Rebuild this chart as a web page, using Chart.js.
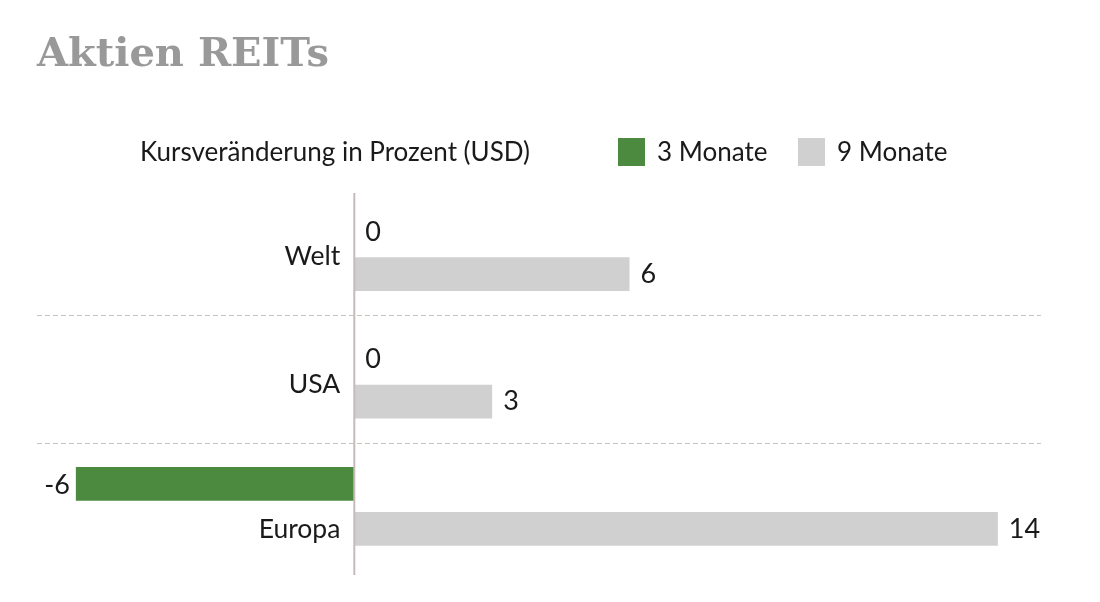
<!DOCTYPE html>
<html><head><meta charset="utf-8">
<script src="https://cdn.jsdelivr.net/npm/chart.js@4/dist/chart.umd.min.js"></script>
<style>body{margin:0;background:#fff}canvas{display:block}</style>
</head><body>
<canvas id="c" width="1100" height="602"></canvas>
<script>
const titleText = 'Aktien REITs';
const axisCaption = 'Kursveränderung in Prozent (USD)';
const categories = ['Welt', 'USA', 'Europa'];
const seriesNames = ['3 Monate', '9 Monate'];
const values3M = [0, 0, -6.04];
const values9M = [5.97, 2.99, 13.96];
const colors = ['#4c8a3f', '#d0d0d0'];

const FONT = 'Lato, "DejaVu Sans Condensed", sans-serif';
const TEXT = '#1a1a1a';

const overlay = {
  id: 'overlay',
  afterDatasetsDraw(chart) {
    const {ctx, chartArea, scales} = chart;
    const x = scales.x, y = scales.y;
    ctx.save();
    // dashed separators between categories
    ctx.strokeStyle = '#c9c0c0';
    ctx.lineWidth = 1.2;
    ctx.setLineDash([5, 3]);
    for (let i = 0; i < categories.length - 1; i++) {
      const yy = Math.round((y.getPixelForValue(i) + y.getPixelForValue(i + 1)) / 2) + 0.5;
      ctx.beginPath(); ctx.moveTo(chartArea.left, yy); ctx.lineTo(chartArea.right, yy); ctx.stroke();
    }
    ctx.setLineDash([]);
    // zero line
    const x0 = x.getPixelForValue(0);
    ctx.strokeStyle = '#c6baba';
    ctx.lineWidth = 2;
    ctx.beginPath(); ctx.moveTo(x0, chartArea.top + 5); ctx.lineTo(x0, chartArea.bottom + 5); ctx.stroke();
    // value labels
    ctx.font = '27px ' + FONT;
    ctx.fillStyle = TEXT;
    ctx.textBaseline = 'middle';
    chart.data.datasets.forEach((ds, di) => {
      const meta = chart.getDatasetMeta(di);
      meta.data.forEach((bar, i) => {
        const v = ds.data[i];
        const label = String(Math.round(v));
        if (v < 0) { ctx.textAlign = 'right'; ctx.fillText(label, bar.x - 6, bar.y + 1); }
        else if (Math.round(v) === 0) { ctx.textAlign = 'left'; ctx.fillText(label, bar.x + 11, bar.y + 3); }
        else { ctx.textAlign = 'left'; ctx.fillText(label, bar.x + 11, bar.y); }
      });
    });
    // category labels
    ctx.font = '26.5px ' + FONT;
    ctx.textAlign = 'right';
    const m1 = chart.getDatasetMeta(1);
    categories.forEach((c, i) => {
      let yy = y.getPixelForValue(i) + 5;
      if (values3M[i] < 0) yy = m1.data[i].y + 1;
      ctx.fillText(c, x0 - 14, yy);
    });
    // title
    ctx.font = 'bold 40px "DejaVu Serif", serif';
    ctx.fillStyle = '#999999';
    ctx.textAlign = 'left';
    ctx.textBaseline = 'alphabetic';
    ctx.fillText(titleText, 37, 66);
    // legend row
    ctx.font = '26px ' + FONT;
    ctx.fillStyle = TEXT;
    ctx.textBaseline = 'middle';
    ctx.fillText(axisCaption, 140, 153);
    const items = [{x: 618}, {x: 798}];
    items.forEach((it, k) => {
      ctx.fillStyle = colors[k];
      ctx.fillRect(it.x, 138, 27, 28);
      ctx.fillStyle = TEXT;
      ctx.fillText(seriesNames[k], it.x + 39, 153);
    });
    ctx.restore();
  }
};

new Chart(document.getElementById('c'), {
  type: 'bar',
  data: {
    labels: categories,
    datasets: [
      {label: seriesNames[0], data: values3M, backgroundColor: colors[0]},
      {label: seriesNames[1], data: values9M, backgroundColor: colors[1]}
    ]
  },
  options: {
    indexAxis: 'y',
    responsive: false,
    animation: false,
    events: [],
    categoryPercentage: 0.707,
    barPercentage: 0.75,
    layout: {padding: {left: 37, right: 59, top: 188, bottom: 32}},
    plugins: {legend: {display: false}, title: {display: false}, tooltip: {enabled: false}},
    scales: {
      x: {display: false, min: -6.883, max: 14.896},
      y: {display: false}
    }
  },
  plugins: [overlay]
});
</script>
</body></html>
